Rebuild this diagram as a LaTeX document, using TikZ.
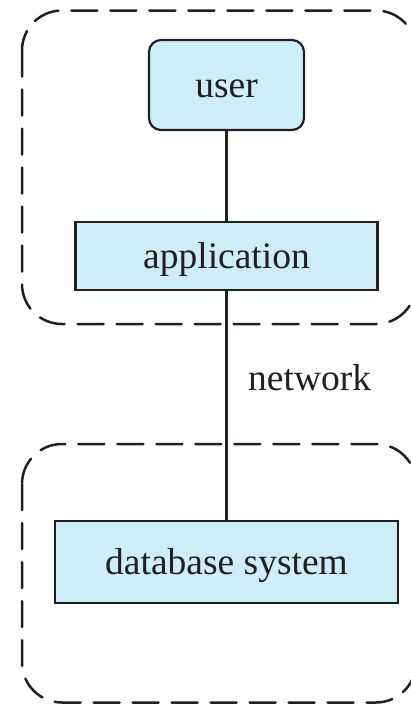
\documentclass[tikz,border=0pt]{standalone}
\usepackage{fontspec}
\setmainfont{Liberation Serif}
\definecolor{ink}{HTML}{231F20}
\definecolor{boxfill}{HTML}{CDEDF8}
\begin{document}
\begin{tikzpicture}[x=1pt,y=-1pt,
  blockbox/.style={draw=ink,fill=boxfill,line width=2.2pt,inner sep=0pt,
    text=ink,font=\fontsize{37.5}{44}\selectfont,text height=24pt,text depth=0pt},
  groupbox/.style={draw=ink,line width=2.5pt,dash pattern=on 26pt off 13pt,
    line cap=round,rounded corners=40pt},
  wire/.style={draw=ink,line width=2.2pt},
  lbl/.style={text=ink,font=\fontsize{37.5}{44}\selectfont,inner sep=0pt}]
\useasboundingbox (0,0) rectangle (411,704);
% client side and server side groupings
\draw[groupbox] (22,10.5) rectangle (416,324);
\draw[groupbox] (22,444) rectangle (416,702.5);
% components
\node[blockbox,rounded corners=12pt,minimum width=155pt,minimum height=90pt] (user) at (226.5,85) {user};
\node[blockbox,minimum width=302pt,minimum height=68pt] (app) at (226.5,256) {application};
\node[blockbox,minimum width=343pt,minimum height=82pt] (db) at (226.5,562) {database system};
% connections
\draw[wire] (user.south) -- (user.south |- app.north);
\draw[wire] (app.south) -- (app.south |- db.north);
\node[lbl,anchor=base west] (net) at (248,390) {network};
\end{tikzpicture}
\end{document}
